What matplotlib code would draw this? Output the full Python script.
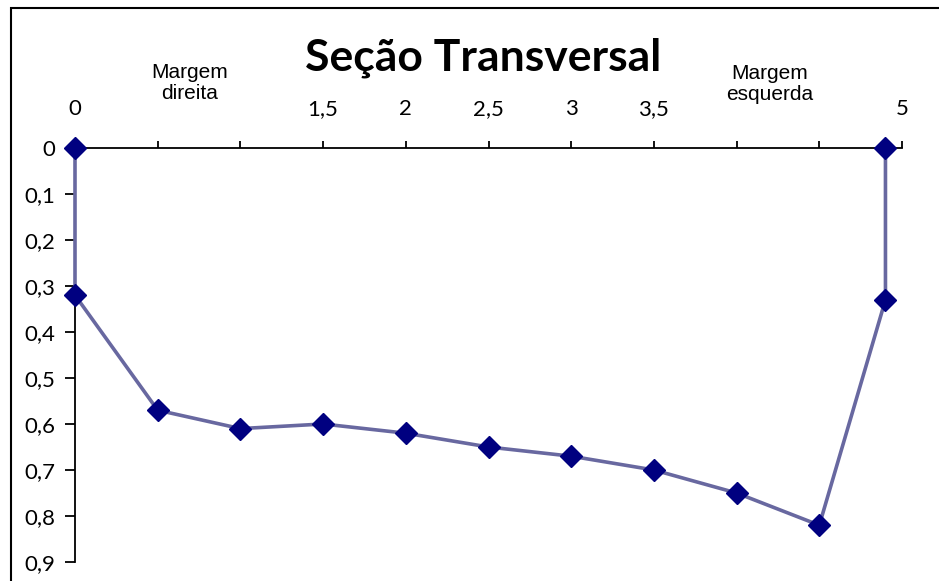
import matplotlib
matplotlib.use('Agg')
import matplotlib.pyplot as plt
from matplotlib.patches import Rectangle

# distancia (m) e profundidade (m)
dist = [0, 0, 0.5, 1.0, 1.5, 2.0, 2.5, 3.0, 3.5, 4.0, 4.5, 4.9, 4.9]
prof = [0, 0.32, 0.57, 0.61, 0.60, 0.62, 0.65, 0.67, 0.70, 0.75, 0.82, 0.33, 0]

x_ticks = [0, 0.5, 1, 1.5, 2, 2.5, 3, 3.5, 4, 4.5, 5]
x_labels = ['0', '', '', '1,5', '2', '2,5', '3', '3,5', '', '', '5']
y_ticks = [0, 0.1, 0.2, 0.3, 0.4, 0.5, 0.6, 0.7, 0.8, 0.9]
y_labels = ['0', '0,1', '0,2', '0,3', '0,4', '0,5', '0,6', '0,7', '0,8', '0,9']

W, H = 939, 581
fig = plt.figure(figsize=(W / 100, H / 100), dpi=100)
ax = fig.add_axes([75 / W, 1 - 562 / H, (902 - 75) / W, (562 - 148) / H])

ax.plot(dist, prof, color='#6868a0', lw=2.6, marker='D', ms=11,
        mfc='#000080', mec='#000080', clip_on=False, zorder=3)

ax.set_xlim(0, 5)
ax.set_ylim(0.9, 0)
ax.xaxis.tick_top()
ax.set_xticks(x_ticks)
ax.set_xticklabels(x_labels, fontsize=16, family='Lato')
ax.set_yticks(y_ticks)
ax.set_yticklabels(y_labels, fontsize=16, family='Lato')
ax.tick_params(axis='x', direction='out', length=5, width=1.3, pad=18.5)
ax.tick_params(axis='y', direction='out', length=7, width=1.3, pad=7)
for t in ax.xaxis.get_major_ticks():
    t.label2.set_verticalalignment('baseline')
for s in ['right', 'bottom']:
    ax.spines[s].set_visible(False)
for s in ['left', 'top']:
    ax.spines[s].set_linewidth(1.3)

fig.text(483 / W, 1 - 58 / H, 'Seção Transversal', fontsize=32, fontweight='bold',
         family='Lato', ha='center', va='center')
fig.text(190 / W, 1 - 83 / H, 'Margem\ndireita', fontsize=15, family='Liberation Sans',
         ha='center', va='center', linespacing=1.15)
fig.text(770 / W, 1 - 84 / H, 'Margem\nesquerda', fontsize=15, family='Liberation Sans',
         ha='center', va='center', linespacing=1.15)

# borda da area do grafico
fig.patches.append(Rectangle((11 / W, -0.1), 1.2, 1 - 8 / H + 0.1, transform=fig.transFigure,
                             fill=False, edgecolor='black', lw=1.5))

fig.savefig('out.png', dpi=100)
